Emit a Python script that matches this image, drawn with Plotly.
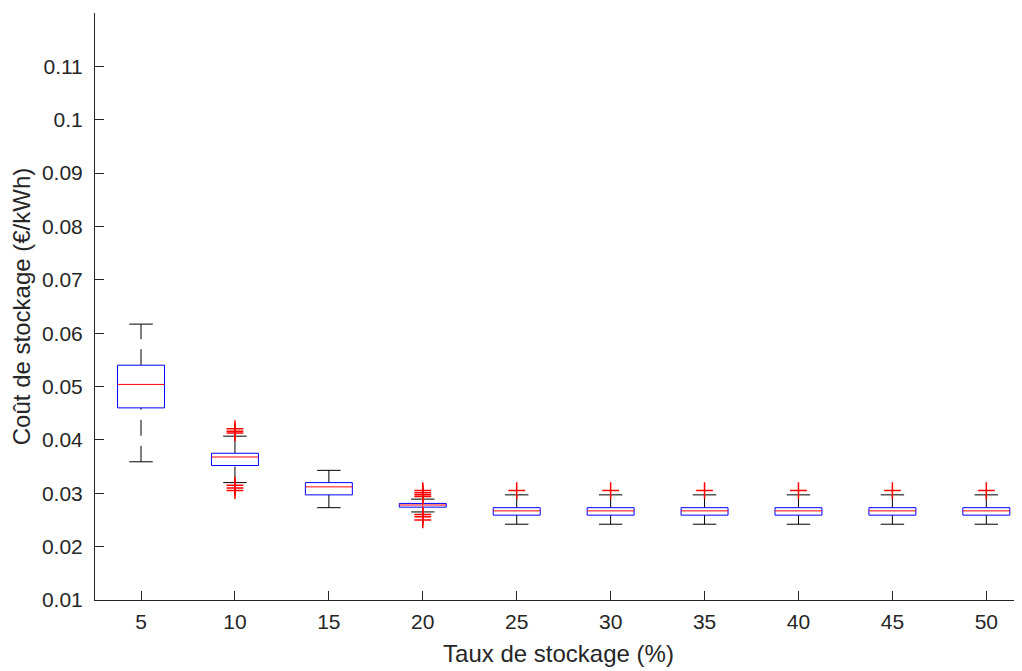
import plotly.graph_objects as go

categories = [5, 10, 15, 20, 25, 30, 35, 40, 45, 50]
q1 = [0.0460, 0.0352, 0.0297, 0.0274, 0.0259, 0.0259, 0.0259, 0.0259, 0.0259, 0.0259]
median = [0.0504, 0.0368, 0.0312, 0.0278, 0.0267, 0.0267, 0.0267, 0.0267, 0.0267, 0.0267]
q3 = [0.0540, 0.0375, 0.0320, 0.0281, 0.0273, 0.0273, 0.0273, 0.0273, 0.0273, 0.0273]
upper_whisker = [0.0617, 0.0407, 0.0343, 0.0289, 0.0297, 0.0297, 0.0297, 0.0297, 0.0297, 0.0297]
lower_whisker = [0.0359, 0.0320, 0.0273, 0.0265, 0.0242, 0.0242, 0.0242, 0.0242, 0.0242, 0.0242]
outliers = [
    [],
    [0.0421, 0.0416, 0.0413, 0.0315, 0.0310, 0.0305],
    [],
    [0.0305, 0.0301, 0.0297, 0.0294, 0.0260, 0.0256, 0.0250],
    [0.0305],
    [0.0305],
    [0.0305],
    [0.0305],
    [0.0305],
    [0.0305],
]
y_ticks = [0.01, 0.02, 0.03, 0.04, 0.05, 0.06, 0.07, 0.08, 0.09, 0.1, 0.11]

HALF = 0.25
CAP = 0.125
AXC = "#262626"
FONT = "Arial, Liberation Sans, Helvetica, sans-serif"

pos = list(range(1, len(categories) + 1))

box_x, box_y = [], []
med_x, med_y = [], []
wu_x, wu_y, wl_x, wl_y = [], [], [], []
cap_x, cap_y = [], []
out_x, out_y = [], []
for i, p in enumerate(pos):
    box_x += [p - HALF, p + HALF, p + HALF, p - HALF, p - HALF, None]
    box_y += [q1[i], q1[i], q3[i], q3[i], q1[i], None]
    med_x += [p - HALF, p + HALF, None]
    med_y += [median[i], median[i], None]
    wu_x += [p, p, None]
    wu_y += [q3[i], upper_whisker[i], None]
    wl_x += [p, p, None]
    wl_y += [lower_whisker[i], q1[i], None]
    cap_x += [p - CAP, p + CAP, None, p - CAP, p + CAP, None]
    cap_y += [upper_whisker[i], upper_whisker[i], None, lower_whisker[i], lower_whisker[i], None]
    for o in outliers[i]:
        out_x.append(p)
        out_y.append(o)

fig = go.Figure()
dash = "16px,10px"
fig.add_trace(go.Scatter(x=wu_x, y=wu_y, mode="lines", line=dict(color="black", width=1, dash=dash), hoverinfo="skip"))
fig.add_trace(go.Scatter(x=wl_x, y=wl_y, mode="lines", line=dict(color="black", width=1, dash=dash), hoverinfo="skip"))
fig.add_trace(go.Scatter(x=cap_x, y=cap_y, mode="lines", line=dict(color="black", width=1), hoverinfo="skip"))
fig.add_trace(go.Scatter(x=box_x, y=box_y, mode="lines", line=dict(color="#0000ff", width=1), hoverinfo="skip"))
fig.add_trace(go.Scatter(x=med_x, y=med_y, mode="lines", line=dict(color="#ff0000", width=1), hoverinfo="skip"))
fig.add_trace(go.Scatter(x=out_x, y=out_y, mode="markers",
                         marker=dict(symbol="cross-thin", size=12, color="#ff0000",
                                     line=dict(color="#ff0000", width=1.5))))

fig.update_layout(
    width=1014, height=663,
    margin=dict(l=87, r=0, t=5, b=71),
    paper_bgcolor="white", plot_bgcolor="white",
    showlegend=False,
    font=dict(family=FONT, color=AXC, size=22),
)
fig.update_xaxes(
    range=[0.51, 10.38], tickmode="array", tickvals=pos, ticktext=[str(c) for c in categories],
    showline=True, linecolor=AXC, linewidth=1, showgrid=False, zeroline=False,
    ticks="inside", ticklen=9, tickcolor=AXC, tickwidth=1,
    tickfont=dict(size=21, color=AXC), ticklabelstandoff=3,
    title=dict(text="Taux de stockage (%)", font=dict(size=24, color=AXC), standoff=12),
)
fig.update_yaxes(
    range=[0.01, 0.12], tickmode="array", tickvals=y_ticks, ticktext=[f"{v:g}" for v in y_ticks],
    showline=True, linecolor=AXC, linewidth=1, showgrid=False, zeroline=False,
    ticks="inside", ticklen=9, tickcolor=AXC, tickwidth=1,
    tickfont=dict(size=21, color=AXC), ticklabelstandoff=7,
    title=dict(text="Coût de stockage (€/kWh)", font=dict(size=24, color=AXC), standoff=10),
)

fig.write_html("out.html")
